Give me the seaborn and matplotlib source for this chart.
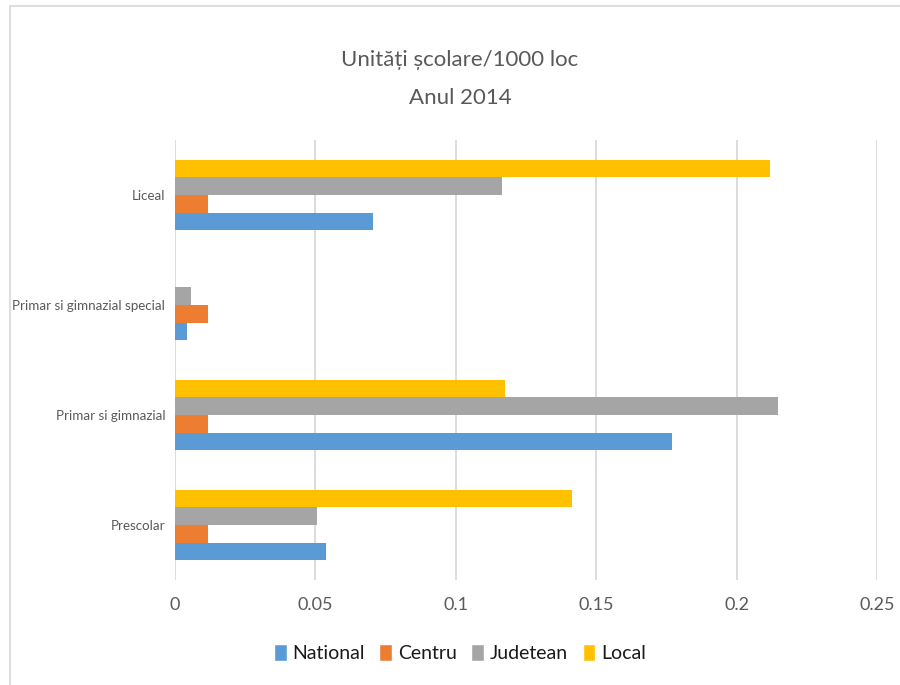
import numpy as np
import pandas as pd
import matplotlib
matplotlib.use("Agg")
import matplotlib.pyplot as plt
import seaborn as sns
from matplotlib.patches import Patch
from matplotlib.lines import Line2D

categories = ["Liceal", "Primar si gimnazial special", "Primar si gimnazial", "Prescolar"]
series = ["National", "Centru", "Judetean", "Local"]
national = [0.0706, 0.0044, 0.1771, 0.0539]
centru = [0.0119, 0.0119, 0.0119, 0.0119]
judetean = [0.1166, 0.0058, 0.2149, 0.0507]
local = [0.2120, 0.0, 0.1176, 0.1415]
colors = {"National": "#5B9BD5", "Centru": "#ED7D31", "Judetean": "#A5A5A5", "Local": "#FFC000"}
xticks = [0, 0.05, 0.1, 0.15, 0.2, 0.25]
xticklabels = ["0", "0.05", "0.1", "0.15", "0.2", "0.25"]

df = pd.DataFrame({"categorie": categories, "National": national, "Centru": centru,
                   "Judetean": judetean, "Local": local})
long = df.melt(id_vars="categorie", var_name="serie", value_name="valoare")

sns.set_style("white")
plt.rcParams['font.family'] = ['Lato', 'DejaVu Sans']

fig = plt.figure(figsize=(9, 6.85), dpi=100)
ax = fig.add_axes([0.1944, 0.1533, 0.78, 0.6423])

# local drawn at top of each group, national at the bottom
sns.barplot(data=long, y="categorie", x="valoare", hue="serie", order=categories,
            hue_order=["Local", "Judetean", "Centru", "National"], palette=colors,
            orient="h", width=0.645, saturation=1, ax=ax, legend=False,
            linewidth=0, edgecolor="none")

ax.set_xlim(0, 0.25)
ax.set_xticks(xticks)
ax.set_xticklabels(xticklabels, fontsize=13, color="#595959")
ax.tick_params(axis="y", labelsize=9.6, colors="#595959", length=0, pad=7)
ax.tick_params(axis="x", length=0, pad=12)
ax.set_xlabel("")
ax.set_ylabel("")
ax.xaxis.grid(True, color="#D9D9D9", linewidth=1.3)
ax.set_axisbelow(True)
for s in ax.spines.values():
    s.set_visible(False)

fig.text(0.511, 1 - 60 / 685, "Unități școlare/1000 loc", ha="center", va="center",
         fontsize=16, color="#595959")
fig.text(0.511, 1 - 98 / 685, "Anul 2014", ha="center", va="center",
         fontsize=16, color="#595959")

handles = [Patch(facecolor=colors[s], label=s) for s in series]
fig.legend(handles=handles, loc="center", bbox_to_anchor=(0.511, 1 - 653 / 685), ncol=4,
           frameon=False, fontsize=14, handlelength=0.65, handleheight=1.0,
           handletextpad=0.3, columnspacing=0.75, labelcolor="#1a1a1a")

# chart border from the spreadsheet
fig.add_artist(Line2D([10 / 900, 10 / 900], [0, 1 - 6 / 685], transform=fig.transFigure,
                      color="#D9D9D9", linewidth=1.2))
fig.add_artist(Line2D([10 / 900, 1], [1 - 6 / 685, 1 - 6 / 685], transform=fig.transFigure,
                      color="#D9D9D9", linewidth=1.2))

fig.savefig("out.png", dpi=100, facecolor="white")
